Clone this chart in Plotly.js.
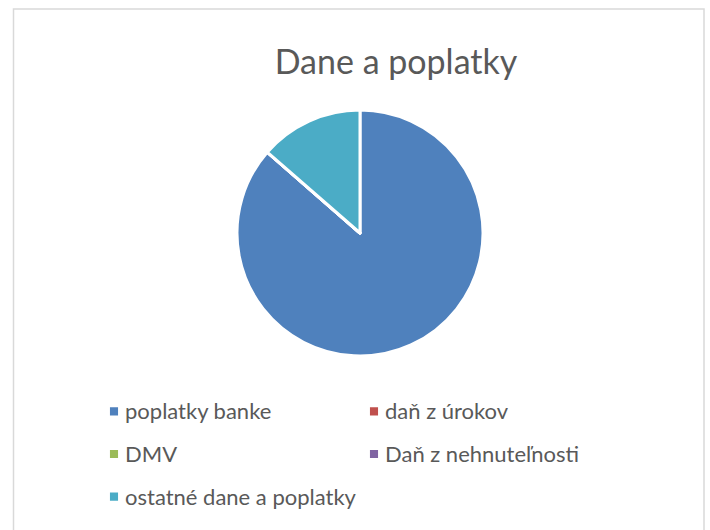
<!DOCTYPE html>
<html>
<head>
<meta charset="utf-8">
<script src="https://cdn.plot.ly/plotly-3.0.1.min.js"></script>
<style>html,body{margin:0;padding:0;background:#fff;}#chart{width:710px;height:530px;}</style>
</head>
<body>
<div id="chart"></div>
<script>
const categories = ["poplatky banke", "daň z úrokov", "DMV", "Daň z nehnuteľnosti", "ostatné dane a poplatky"];
const values = [86.4, 0, 0, 0, 13.6];
const colors = ["#4F81BD", "#C0504D", "#9BBB59", "#8064A2", "#4BACC6"];
const chartTitle = "Dane a poplatky";

const W = 710, H = 530;
const labelText = categories.map(c => '<span style="font-size:22px">' + c + '</span>');

const trace = {
  type: 'pie',
  labels: labelText,
  values: values,
  sort: false,
  direction: 'clockwise',
  rotation: 0,
  textinfo: 'none',
  hoverinfo: 'label+percent',
  marker: {colors: colors, line: {color: '#ffffff', width: 3}},
  domain: {x: [(360 - 123) / W, (360 + 123) / W], y: [(H - 356) / H, (H - 110) / H]},
  showlegend: true
};

const layout = {
  width: W, height: H,
  margin: {l: 0, r: 0, t: 0, b: 0},
  paper_bgcolor: '#ffffff',
  font: {family: 'Lato, "Open Sans", sans-serif', color: '#595959'},
  title: {text: chartTitle, font: {size: 34, color: '#595959', family: 'Lato, sans-serif'},
          x: 396 / W, xanchor: 'center', xref: 'paper', y: (H - 62) / H, yanchor: 'middle', yref: 'paper'},
  legend: {
    orientation: 'h',
    x: 94 / W, xanchor: 'left',
    y: (H - 385) / H, yanchor: 'top',
    entrywidth: 215, entrywidthmode: 'pixels',
    font: {size: 30.5, color: '#595959'},
    traceorder: 'normal'
  },
  shapes: [{type: 'rect', xref: 'paper', yref: 'paper',
            x0: 13.5 / W, x1: 704 / W, y0: -0.05, y1: (H - 9) / H,
            line: {color: '#d9d9d9', width: 1.5}, fillcolor: 'rgba(0,0,0,0)'}]
};

Plotly.newPlot('chart', [trace], layout, {displayModeBar: false, staticPlot: true}).then(function () {
  document.querySelectorAll('#chart .legend .legendpoints path').forEach(function (p) {
    const t = p.getAttribute('transform') || '';
    p.setAttribute('transform', t + ' scale(0.9)');
  });
  document.querySelectorAll('#chart .legend .legendtext').forEach(function (t) {
    const x = parseFloat(t.getAttribute('x') || '0');
    const y = parseFloat(t.getAttribute('y') || '0');
    t.setAttribute('x', x - 9);
    t.setAttribute('y', y - 4);
    t.querySelectorAll('tspan[x]').forEach(function (s) {
      s.setAttribute('x', parseFloat(s.getAttribute('x')) - 9);
    });
  });
});
</script>
</body>
</html>
